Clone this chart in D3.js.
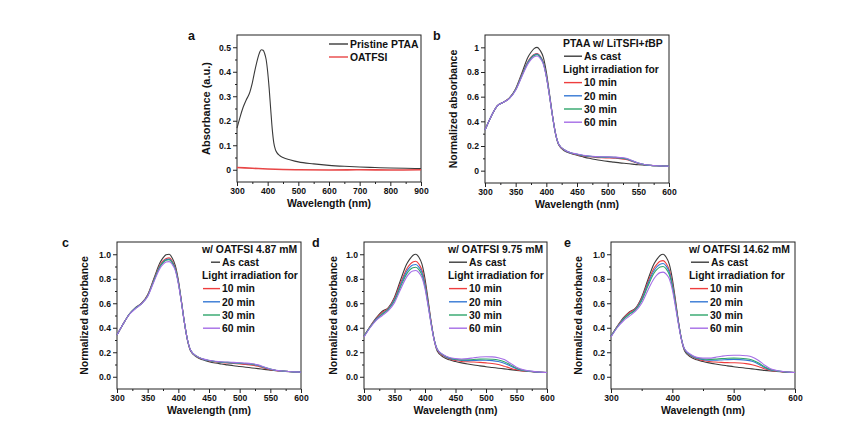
<!DOCTYPE html>
<meta charset="utf-8">
<style>
    html, body { margin: 0; padding: 0; background: #fff; }
    svg text { font-family: "Liberation Sans", Arial, sans-serif; font-weight: bold; fill: #111; }
</style>
<body>
<script src="https://cdnjs.cloudflare.com/ajax/libs/d3/7.8.5/d3.min.js"></script>
<script>
  // ---- data ----
  // panel a: absolute absorbance
  var wlA = [300, 310, 320, 330, 340, 350, 360, 370, 375, 380, 385, 390, 395, 400, 405, 410, 415, 420, 425,
    430, 440, 450, 475, 500, 550, 600, 650, 700, 750, 800, 850, 900];
  var pristine = [0.17, 0.215, 0.255, 0.285, 0.31, 0.355, 0.415, 0.465, 0.483, 0.49, 0.488, 0.475, 0.45, 0.40, 0.33, 0.245, 0.165, 0.11, 0.083,
    0.07, 0.057, 0.05, 0.04, 0.032, 0.024, 0.018, 0.014, 0.011, 0.009, 0.007, 0.006, 0.005];
  var wlO = [300, 350, 400, 450, 500, 600, 700, 800, 900];
  var oatfsi = [0.009, 0.006, 0.003, 0.001, 0, -0.001, 0, -0.001, 0];

  // panels b-e: normalized absorbance
  var wl = [300, 310, 320, 330, 340, 350, 360, 370,
    375, 380, 385, 390, 395, 400, 405, 410, 415, 420,
    430, 440, 450, 460, 470, 480, 490, 500, 510, 520, 530, 540, 550, 560, 570, 580, 590, 600];

  // b: PTAA w/ LiTFSI+tBP
  var bCast = [0.33, 0.44, 0.525, 0.555, 0.59, 0.665, 0.79, 0.92,
    0.96, 0.99, 1.0, 0.975, 0.92, 0.80, 0.63, 0.45, 0.30, 0.21,
    0.16, 0.14, 0.125, 0.112, 0.10, 0.09, 0.082, 0.075, 0.069, 0.063, 0.058, 0.053, 0.048, 0.045, 0.042, 0.04, 0.038, 0.036];
  var b10 = [0.33, 0.44, 0.525, 0.555, 0.59, 0.66, 0.775, 0.885,
    0.92, 0.943, 0.95, 0.93, 0.88, 0.77, 0.615, 0.445, 0.30, 0.215,
    0.165, 0.143, 0.13, 0.12, 0.113, 0.108, 0.105, 0.103, 0.101, 0.098, 0.09, 0.075, 0.058, 0.048, 0.043, 0.04, 0.038, 0.036];
  var b20 = [0.33, 0.44, 0.525, 0.555, 0.588, 0.658, 0.772, 0.88,
    0.915, 0.938, 0.945, 0.925, 0.876, 0.768, 0.614, 0.445, 0.30, 0.216,
    0.166, 0.144, 0.132, 0.122, 0.116, 0.112, 0.11, 0.108, 0.106, 0.103, 0.095, 0.078, 0.06, 0.049, 0.043, 0.04, 0.038, 0.036];
  var b30 = [0.33, 0.44, 0.525, 0.555, 0.588, 0.656, 0.768, 0.875,
    0.91, 0.933, 0.94, 0.92, 0.872, 0.765, 0.612, 0.444, 0.30, 0.216,
    0.167, 0.145, 0.133, 0.123, 0.117, 0.113, 0.111, 0.11, 0.108, 0.105, 0.097, 0.08, 0.061, 0.049, 0.043, 0.04, 0.038, 0.036];
  var b60 = [0.33, 0.44, 0.525, 0.555, 0.586, 0.652, 0.762, 0.866,
    0.90, 0.923, 0.93, 0.91, 0.864, 0.76, 0.61, 0.443, 0.30, 0.217,
    0.168, 0.146, 0.135, 0.125, 0.119, 0.115, 0.113, 0.112, 0.11, 0.107, 0.10, 0.082, 0.062, 0.05, 0.044, 0.04, 0.038, 0.036];

  // c: w/ OATFSI 4.87 mM
  var cCast = [0.34, 0.43, 0.51, 0.565, 0.60, 0.67, 0.80, 0.93,
    0.97, 0.995, 1.0, 0.97, 0.91, 0.79, 0.62, 0.44, 0.295, 0.21,
    0.16, 0.138, 0.123, 0.112, 0.104, 0.097, 0.09, 0.084, 0.078, 0.072, 0.066, 0.06, 0.054, 0.049, 0.045, 0.042, 0.04, 0.038];
  var c10 = [0.34, 0.43, 0.51, 0.56, 0.60, 0.665, 0.79, 0.91,
    0.945, 0.966, 0.97, 0.945, 0.89, 0.775, 0.615, 0.44, 0.30, 0.215,
    0.165, 0.143, 0.13, 0.122, 0.116, 0.112, 0.108, 0.104, 0.10, 0.095, 0.085, 0.07, 0.058, 0.05, 0.046, 0.043, 0.04, 0.038];
  var c20 = [0.34, 0.43, 0.51, 0.56, 0.598, 0.662, 0.785, 0.902,
    0.936, 0.956, 0.96, 0.936, 0.882, 0.77, 0.612, 0.44, 0.30, 0.216,
    0.166, 0.144, 0.132, 0.124, 0.118, 0.115, 0.112, 0.109, 0.106, 0.101, 0.092, 0.076, 0.061, 0.051, 0.046, 0.043, 0.04, 0.038];
  var c30 = [0.34, 0.43, 0.51, 0.558, 0.597, 0.66, 0.782, 0.898,
    0.931, 0.951, 0.955, 0.932, 0.879, 0.768, 0.611, 0.44, 0.30, 0.216,
    0.167, 0.145, 0.133, 0.125, 0.12, 0.117, 0.114, 0.111, 0.108, 0.103, 0.094, 0.077, 0.062, 0.051, 0.046, 0.043, 0.04, 0.038];
  var c60 = [0.34, 0.43, 0.508, 0.555, 0.595, 0.655, 0.773, 0.885,
    0.917, 0.936, 0.94, 0.918, 0.868, 0.76, 0.607, 0.438, 0.30, 0.217,
    0.168, 0.146, 0.135, 0.127, 0.122, 0.12, 0.117, 0.114, 0.111, 0.106, 0.097, 0.08, 0.063, 0.052, 0.047, 0.043, 0.04, 0.038];

  // d: w/ OATFSI 9.75 mM
  var dCast = [0.33, 0.41, 0.48, 0.535, 0.565, 0.65, 0.79, 0.92,
    0.96, 0.99, 1.0, 0.975, 0.92, 0.80, 0.63, 0.45, 0.30, 0.21,
    0.16, 0.138, 0.124, 0.113, 0.104, 0.096, 0.089, 0.082, 0.076, 0.07, 0.064, 0.058, 0.052, 0.047, 0.043, 0.04, 0.037, 0.035];
  var d10 = [0.33, 0.41, 0.475, 0.525, 0.56, 0.64, 0.765, 0.88,
    0.915, 0.937, 0.943, 0.92, 0.87, 0.765, 0.61, 0.445, 0.305, 0.22,
    0.17, 0.145, 0.133, 0.125, 0.122, 0.12, 0.117, 0.113, 0.108, 0.10, 0.086, 0.07, 0.057, 0.048, 0.044, 0.04, 0.037, 0.035];
  var d20 = [0.33, 0.405, 0.47, 0.515, 0.555, 0.63, 0.75, 0.86,
    0.893, 0.912, 0.916, 0.895, 0.85, 0.75, 0.60, 0.44, 0.305, 0.225,
    0.175, 0.15, 0.14, 0.133, 0.132, 0.133, 0.135, 0.135, 0.132, 0.125, 0.11, 0.088, 0.066, 0.052, 0.045, 0.04, 0.037, 0.035];
  var d30 = [0.33, 0.405, 0.465, 0.51, 0.55, 0.62, 0.735, 0.84,
    0.872, 0.89, 0.894, 0.875, 0.83, 0.735, 0.59, 0.435, 0.305, 0.225,
    0.178, 0.153, 0.143, 0.138, 0.139, 0.141, 0.144, 0.145, 0.143, 0.137, 0.122, 0.097, 0.07, 0.054, 0.046, 0.041, 0.037, 0.035];
  var d60 = [0.325, 0.40, 0.46, 0.50, 0.54, 0.605, 0.715, 0.815,
    0.847, 0.864, 0.867, 0.85, 0.81, 0.72, 0.58, 0.43, 0.30, 0.225,
    0.18, 0.157, 0.148, 0.145, 0.148, 0.155, 0.161, 0.163, 0.162, 0.155, 0.14, 0.11, 0.078, 0.058, 0.048, 0.042, 0.038, 0.035];

  // e: w/ OATFSI 14.62 mM
  var eCast = [0.33, 0.41, 0.48, 0.53, 0.56, 0.65, 0.79, 0.92,
    0.96, 0.99, 1.0, 0.975, 0.92, 0.80, 0.63, 0.45, 0.30, 0.21,
    0.16, 0.138, 0.124, 0.113, 0.104, 0.096, 0.089, 0.082, 0.076, 0.07, 0.064, 0.058, 0.052, 0.047, 0.043, 0.04, 0.037, 0.035];
  var e10 = [0.33, 0.41, 0.475, 0.525, 0.556, 0.64, 0.77, 0.885,
    0.92, 0.942, 0.948, 0.925, 0.873, 0.765, 0.61, 0.445, 0.305, 0.22,
    0.17, 0.145, 0.132, 0.124, 0.12, 0.117, 0.115, 0.114, 0.112, 0.107, 0.098, 0.084, 0.066, 0.052, 0.045, 0.04, 0.037, 0.035];
  var e20 = [0.33, 0.405, 0.47, 0.515, 0.55, 0.63, 0.755, 0.865,
    0.898, 0.918, 0.924, 0.903, 0.855, 0.752, 0.60, 0.44, 0.305, 0.222,
    0.174, 0.15, 0.14, 0.135, 0.135, 0.137, 0.14, 0.141, 0.14, 0.136, 0.126, 0.105, 0.076, 0.056, 0.047, 0.041, 0.037, 0.035];
  var e30 = [0.33, 0.405, 0.465, 0.51, 0.545, 0.62, 0.738, 0.845,
    0.876, 0.895, 0.90, 0.88, 0.835, 0.738, 0.592, 0.436, 0.305, 0.224,
    0.177, 0.153, 0.145, 0.142, 0.144, 0.148, 0.151, 0.152, 0.151, 0.147, 0.137, 0.115, 0.082, 0.059, 0.048, 0.042, 0.038, 0.035];
  var e60 = [0.325, 0.40, 0.455, 0.495, 0.535, 0.60, 0.705, 0.80,
    0.832, 0.85, 0.854, 0.838, 0.80, 0.712, 0.575, 0.428, 0.30, 0.226,
    0.182, 0.158, 0.152, 0.152, 0.158, 0.167, 0.174, 0.176, 0.176, 0.172, 0.162, 0.135, 0.097, 0.066, 0.051, 0.043, 0.038, 0.035];

  var seriesNames = ["As cast", "10 min", "20 min", "30 min", "60 min"];
  var seriesColors = ["#3c3c3c", "#ee3d3d", "#3578d4", "#2ea56a", "#a56de6"];

  // tick values
  var xTicksA = [300, 400, 500, 600, 700, 800, 900];
  var xMinorA = [350, 450, 550, 650, 750, 850];
  var yTicksA = [0, 0.1, 0.2, 0.3, 0.4, 0.5];
  var yMinorA = [0.05, 0.15, 0.25, 0.35, 0.45];
  var xTicks50 = [300, 350, 400, 450, 500, 550, 600];
  var xMinor50 = [325, 375, 425, 475, 525, 575];
  var xTicks100 = [300, 400, 500, 600];
  var xMinor100 = [350, 450, 550];
  var yTicksN = [0, 0.2, 0.4, 0.6, 0.8, 1.0];
  var yMinorN = [0.1, 0.3, 0.5, 0.7, 0.9];

  // ---- drawing ----
  var svg = d3.select("body").append("svg")
    .attr("width", 844).attr("height", 424);
  svg.append("rect").attr("width", 844).attr("height", 424).attr("fill", "#fff");

  function panel(cfg) {
    var w = cfg.right - cfg.left, h = cfg.bottom - cfg.top;
    var g = svg.append("g").attr("transform", "translate(" + cfg.left + "," + cfg.top + ")");
    var x = d3.scaleLinear().domain(cfg.xDomain).range([0, w]);
    var y = d3.scaleLinear().domain(cfg.yDomain).range([h, 0]);

    g.append("g").attr("transform", "translate(0," + h + ")")
      .call(d3.axisBottom(x).tickValues(cfg.xMinor).tickSize(2).tickFormat(""));
    g.append("g").attr("transform", "translate(0," + h + ")")
      .call(d3.axisBottom(x).tickValues(cfg.xTicks).tickSize(4).tickPadding(2).tickFormat(d3.format("d")));
    g.append("g")
      .call(d3.axisLeft(y).tickValues(cfg.yMinor).tickSize(2).tickFormat(""));
    g.append("g")
      .call(d3.axisLeft(y).tickValues(cfg.yTicks).tickSize(4).tickPadding(2).tickFormat(cfg.yFmt));
    g.selectAll(".domain").remove();
    g.selectAll(".tick line").attr("stroke", "#222");
    g.selectAll(".tick text").style("font-size", "8.6px").attr("fill", "#111");

    g.append("rect").attr("width", w).attr("height", h)
      .attr("fill", "none").attr("stroke", "#222").attr("stroke-width", 1);

    var line = d3.line()
      .x(function (d) { return x(d[0]); })
      .y(function (d) { return y(d[1]); })
      .curve(d3.curveMonotoneX);

    cfg.series.forEach(function (s) {
      var pts = s.wl.map(function (v, i) { return [v, s.values[i]]; });
      g.append("path").datum(pts)
        .attr("d", line)
        .attr("fill", "none")
        .attr("stroke", s.color)
        .attr("stroke-width", s.width || 1.1);
    });

    g.append("text")
      .attr("transform", "translate(" + (-cfg.yTitleOff) + "," + (h / 2) + ") rotate(-90)")
      .attr("text-anchor", "middle")
      .style("font-size", cfg.yTitleSize || "10.5px")
      .text(cfg.yTitle);
    g.append("text")
      .attr("x", w / 2).attr("y", h + 25)
      .attr("text-anchor", "middle")
      .style("font-size", "10.5px")
      .text("Wavelength (nm)");

    svg.append("text")
      .attr("x", cfg.letter[1]).attr("y", cfg.letter[2])
      .style("font-size", "12.5px")
      .text(cfg.letter[0]);

    return g;
  }

  function legendRow(g, lx, ly, len, color, label, textX) {
    g.append("line")
      .attr("x1", lx).attr("x2", lx + len)
      .attr("y1", ly).attr("y2", ly)
      .attr("stroke", color).attr("stroke-width", 1.4);
    g.append("text")
      .attr("x", textX).attr("y", ly + 3.7)
      .style("font-size", "10.4px")
      .text(label);
  }

  function normLegend(g, hx, hy, header, castOff, castLen, lineLen) {
    var step = 13.2;
    var head = g.append("text").attr("x", hx).attr("y", hy + 3.7).style("font-size", "10.4px");
    header(head);
    legendRow(g, hx + castOff, hy + step, castLen, seriesColors[0], seriesNames[0], hx + castOff + castLen + 2);
    g.append("text").attr("x", hx).attr("y", hy + 2 * step + 3.7).style("font-size", "10.4px")
      .text("Light irradiation for");
    for (var i = 1; i < 5; i++) {
      legendRow(g, hx + 1, hy + (i + 2) * step, lineLen, seriesColors[i], seriesNames[i], hx + lineLen + 3);
    }
  }

  // panel a
  var ga = panel({
    left: 237, right: 421, top: 35, bottom: 182,
    xDomain: [300, 900], yDomain: [-0.05, 0.55],
    xTicks: xTicksA, xMinor: xMinorA, yTicks: yTicksA, yMinor: yMinorA,
    yFmt: d3.format("~g"), yTitle: "Absorbance (a.u.)", yTitleOff: 27, yTitleSize: "11px",
    letter: ["a", 188, 40],
    series: [
      {wl: wlO, values: oatfsi, color: "#e84646", width: 1.6},
      {wl: wlA, values: pristine, color: "#3a3a3a", width: 1.1}
    ]
  });
  legendRow(ga, 92, 9, 19, "#3a3a3a", "Pristine PTAA", 113);
  legendRow(ga, 92, 22, 19, "#e84646", "OATFSI", 113);

  function normSeries(arrs) {
    return arrs.map(function (a, i) { return {wl: wl, values: a, color: seriesColors[i]}; });
  }

  // panel b
  var gb = panel({
    left: 485, right: 669, top: 35, bottom: 183,
    xDomain: [300, 600], yDomain: [-0.1, 1.1],
    xTicks: xTicks50, xMinor: xMinor50, yTicks: yTicksN, yMinor: yMinorN,
    yFmt: d3.format("~g"), yTitle: "Normalized absorbance", yTitleOff: 28,
    letter: ["b", 433, 40],
    series: normSeries([bCast, b10, b20, b30, b60])
  });
  normLegend(gb, 78, 8, function (t) {
    t.append("tspan").text("PTAA w/ LiTSFI+");
    t.append("tspan").style("font-style", "italic").text("t");
    t.append("tspan").text("BP");
  }, 1, 18, 18);

  // panel c
  var gc = panel({
    left: 117, right: 301, top: 242, bottom: 389,
    xDomain: [300, 600], yDomain: [-0.1, 1.1],
    xTicks: xTicks50, xMinor: xMinor50, yTicks: yTicksN, yMinor: yMinorN,
    yFmt: d3.format(".1f"), yTitle: "Normalized absorbance", yTitleOff: 29,
    letter: ["c", 62, 247],
    series: normSeries([cCast, c10, c20, c30, c60])
  });
  normLegend(gc, 85, 7, function (t) { t.text("w/ OATFSI 4.87 mM"); }, 9, 9, 17);

  // panel d
  var gd = panel({
    left: 364, right: 547, top: 242, bottom: 389,
    xDomain: [300, 600], yDomain: [-0.1, 1.1],
    xTicks: xTicks50, xMinor: xMinor50, yTicks: yTicksN, yMinor: yMinorN,
    yFmt: d3.format(".1f"), yTitle: "Normalized absorbance", yTitleOff: 27,
    letter: ["d", 312, 247],
    series: normSeries([dCast, d10, d20, d30, d60])
  });
  normLegend(gd, 84, 7, function (t) { t.text("w/ OATFSI 9.75 mM"); }, 1, 18, 18);

  // panel e
  var ge = panel({
    left: 611, right: 795, top: 242, bottom: 389,
    xDomain: [300, 600], yDomain: [-0.1, 1.1],
    xTicks: xTicks100, xMinor: xMinor100, yTicks: yTicksN, yMinor: yMinorN,
    yFmt: d3.format(".1f"), yTitle: "Normalized absorbance", yTitleOff: 29,
    letter: ["e", 564, 247],
    series: normSeries([eCast, e10, e20, e30, e60])
  });
  normLegend(ge, 78, 7, function (t) { t.text("w/ OATFSI 14.62 mM"); }, 2, 18, 18);
</script>
</body>
